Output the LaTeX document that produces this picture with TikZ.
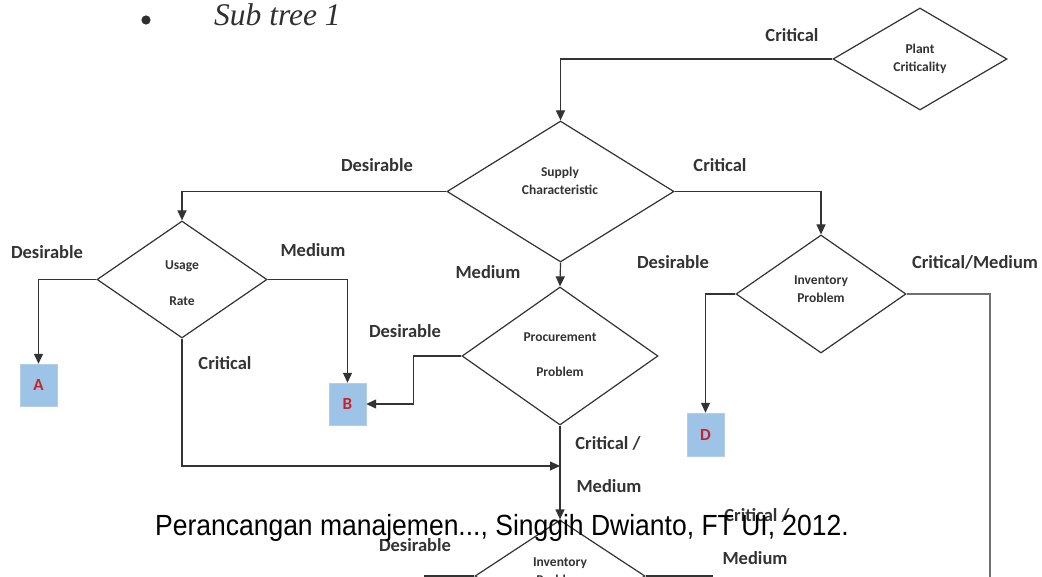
\documentclass[tikz,border=0pt]{standalone}
\usepackage{fontspec}
\setmainfont{Carlito}
\newfontfamily\serifit{Liberation Serif}
\newfontfamily\footfont{Liberation Sans}
\usetikzlibrary{shapes.geometric,arrows.meta}
\definecolor{ink}{HTML}{333333}
\definecolor{leaf}{HTML}{9DC3E6}
\definecolor{leaftext}{HTML}{C8232C}
\tikzset{
  decision/.style={diamond, draw=ink, line width=1.2pt, inner sep=0pt, fill=white},
  dtext/.style={font=\fontsize{13.5}{18}\selectfont\bfseries, text=ink, align=center},
  leafbox/.style={rectangle, fill=leaf, draw=leaf!80!white, minimum width=37pt, minimum height=42pt,
                  inner sep=0pt, font=\fontsize{17}{17}\selectfont\bfseries, text=leaftext},
  branch/.style={font=\fontsize{18.5}{20}\selectfont\bfseries, text=ink},
  conn/.style={draw=ink, line width=1.2pt},
  arr/.style={conn, -{Triangle[length=10pt,width=9pt]}},
}
\begin{document}
\begin{tikzpicture}[x=1pt,y=-1pt]
\useasboundingbox[fill=white] (0,0) rectangle (1042,577);

% heading
\fill[ink!95!black] (146,20) coordinate (bul) circle (4.6pt);
\node[anchor=base west, inner sep=0pt, font=\serifit\itshape\fontsize{31.5}{31.5}\selectfont, text=ink!95!black]
  (title) at (214,26) {Sub tree 1};

% decision nodes
\node[decision, minimum width=174pt, minimum height=102pt] (pc) at (920,59) {};
\node[decision, minimum width=227pt, minimum height=141pt] (sc) at (560.5,191.5) {};
\node[decision, minimum width=170pt, minimum height=117pt] (ur) at (182,279.5) {};
\node[decision, minimum width=196pt, minimum height=138pt] (pp) at (560,356) {};
\node[decision, minimum width=170pt, minimum height=118pt] (ip) at (821,294) {};
\node[decision, minimum width=170pt, minimum height=112pt] (iq) at (560,576) {};

% texts inside the decisions
\node[dtext] (pct) at (920,59) {Plant\\Criticality};
\node[dtext] (sct) at (560,181) {Supply\\Characteristic};
\node[dtext] (urt1) at (182,266) {Usage};
\node[dtext] (urt2) at (182,301) {Rate};
\node[dtext] (ppt1) at (560,337) {Procurement};
\node[dtext] (ppt2) at (560,372) {Problem};
\node[dtext] (ipt) at (821,289) {Inventory\\Problem};
\node[dtext] (iqt) at (560,571) {Inventory\\Problem};

% result boxes
\node[leafbox] (A) at (38.5,385) {A};
\node[leafbox] (B) at (347.5,404) {B};
\node[leafbox, minimum height=43pt] (D) at (705.5,434.5) {D};

% free ends
\coordinate (join) at (560,466);
\coordinate (rdown) at (990,580);

% connectors
\draw[arr] (pc.west) -| (sc.north);
\draw[arr] (sc.west) -| (ur.north);
\draw[arr] (sc.east) -| (ip.north);
\draw[arr] (sc.south) -- (pp.north);
\draw[arr] (ur.west) -| (A.north);
\draw[arr] (ur.east) -| (B.north);
\draw[arr] (pp.west) -- ++(-48,0) |- (B.east);
\draw[arr] (ur.south) |- (join);
\draw[arr] (pp.south) -- (iq.north);
\draw[arr] (ip.west) -| (D.north);
\draw[conn, draw=ink!70] (ip.east) -| (rdown);
\draw[conn] (iq.west) -- ++(-50,0);
\draw[conn] (iq.east) -- ++(67,0);

% branch labels
\node[branch] (l1) at (792,35) {Critical};
\node[branch] (l2) at (377,165) {Desirable};
\node[branch] (l3) at (720,165) {Critical};
\node[branch] (l4) at (47,252) {Desirable};
\node[branch] (l5) at (313,250) {Medium};
\node[branch] (l6) at (488,272) {Medium};
\node[branch] (l7) at (673,262) {Desirable};
\node[branch] (l8) at (975,262) {Critical/Medium};
\node[branch] (l9) at (405,331) {Desirable};
\node[branch] (l10) at (225,363) {Critical};
\node[branch] (l11) at (608,443) {Critical /};
\node[branch] (l12) at (609,486) {Medium};
\node[branch] (l13) at (415,545) {Desirable};
\node[branch] (l14) at (757,515) {Critical /};
\node[branch] (l15) at (755,558) {Medium};

% caption line
\node[anchor=base, inner sep=0pt, font=\footfont\fontsize{26.5}{26.5}\selectfont, text=black]
  (foot) at (502,535) {\scalebox{1}[1.1]{Perancangan manajemen..., Singgih Dwianto, FT UI, 2012.}};
\end{tikzpicture}
\end{document}
